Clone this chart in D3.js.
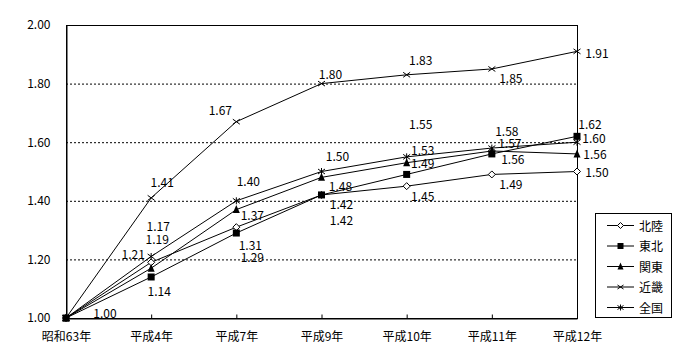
<!DOCTYPE html>
<html><head><meta charset="utf-8">
<script src="https://cdn.jsdelivr.net/npm/d3@7"></script>
<style>body{margin:0;background:#fff}svg{display:block}text{font-family:"Noto Sans CJK JP","Noto Sans",sans-serif;font-size:12px;fill:#000}</style>
</head><body>
<script>
const categories = ["昭和63年","平成4年","平成7年","平成9年","平成10年","平成11年","平成12年"];
const seriesNames = ["北陸","東北","関東","近畿","全国"];
const hokuriku = [1.00,1.19,1.31,1.42,1.45,1.49,1.50];
const tohoku   = [1.00,1.14,1.29,1.42,1.49,1.56,1.62];
const kanto    = [1.00,1.17,1.37,1.48,1.53,1.57,1.56];
const kinki    = [1.00,1.41,1.67,1.80,1.83,1.85,1.91];
const zenkoku  = [1.00,1.21,1.40,1.50,1.55,1.58,1.60];
const yTicks = [1.00,1.20,1.40,1.60,1.80,2.00];

// label offsets (layout only), [dx,dy] of label centre from point; null = no label
const labelOffsets = [
  [null,[6,-24],[14,17],[20,25],[16,9],[19,9],[20,0]],
  [null,[8,14],[16,23],[20,9],[16,-12],[21,5],[13,-13]],
  [null,[7,-43],[16,5],[19,8],[16,-13],[18,-8],[18,0]],
  [[39,-6],[11,-16],[-16,-12],[9,-10],[14,-15],[19,9],[20,1]],
  [null,[-18,-3],[12,-20],[16,-16],[14,-33],[15,-18],[17,-5]]
];

const allSeries = [hokuriku, tohoku, kanto, kinki, zenkoku];
const markers = ["diamond","square","triangle","cross","star"];

const W=700,H=360, L=66, R=577, T=25, B=318;
const svg = d3.select("body").append("svg").attr("width",W).attr("height",H);
const x = d3.scalePoint().domain(categories).range([L,R]).padding(0);
const y = d3.scaleLinear().domain([1,2]).range([B,T]);

// gridlines
svg.append("g").selectAll("line").data(yTicks.filter(v=>v>1&&v<2)).join("line")
  .attr("x1",L).attr("x2",R).attr("y1",d=>y(d)+0.5).attr("y2",d=>y(d)+0.5)
  .attr("stroke","#000").attr("stroke-dasharray","2,2").attr("stroke-width",1);

// frame
svg.append("rect").attr("x",L+0.5).attr("y",T+0.5).attr("width",R-L).attr("height",B-T)
  .attr("fill","none").attr("stroke","#000");

// axes
const xa = svg.append("g").attr("transform",`translate(0,${B+0.5})`)
  .call(d3.axisBottom(x).tickSizeInner(-4).tickSizeOuter(0).tickPadding(14));
xa.select(".domain").attr("stroke","#000");
xa.selectAll("text").style("font-size","12px").attr("fill","#000");
const ya = svg.append("g").attr("transform",`translate(${L+0.5},0)`)
  .call(d3.axisLeft(y).tickValues(yTicks).tickFormat(d3.format(".2f")).tickSize(0).tickPadding(16));
ya.select(".domain").attr("stroke","#000");
ya.selectAll("text").style("font-size","12px").attr("fill","#000");

function drawMarker(g, type, cx, cy, s){
  const h=s/2;
  if(type==="diamond") g.append("path").attr("d",`M${cx},${cy-h}L${cx+h},${cy}L${cx},${cy+h}L${cx-h},${cy}Z`).attr("fill","#fff").attr("stroke","#000");
  else if(type==="square") g.append("rect").attr("x",cx-h).attr("y",cy-h).attr("width",s).attr("height",s).attr("fill","#000");
  else if(type==="triangle") g.append("path").attr("d",`M${cx},${cy-h-1}L${cx+h},${cy+h}L${cx-h},${cy+h}Z`).attr("fill","#000");
  else if(type==="cross") g.append("path").attr("d",`M${cx-h},${cy-h+1}L${cx+h},${cy+h-1}M${cx-h},${cy+h-1}L${cx+h},${cy-h+1}`).attr("stroke","#000").attr("fill","none");
  else if(type==="star") g.append("path").attr("d",`M${cx-h},${cy-h+1}L${cx+h},${cy+h-1}M${cx-h},${cy+h-1}L${cx+h},${cy-h+1}M${cx},${cy-h}L${cx},${cy+h}`).attr("stroke","#000").attr("fill","none");
}

const line = d3.line().x((d,i)=>x(categories[i])).y(d=>y(d));
allSeries.forEach((vals,si)=>{
  const g = svg.append("g");
  g.append("path").datum(vals).attr("d",line).attr("fill","none").attr("stroke","#000").attr("stroke-width",1);
  vals.forEach((v,i)=>drawMarker(g, markers[si], x(categories[i]), y(v), 7));
});
// labels
allSeries.forEach((vals,si)=>{
  vals.forEach((v,i)=>{
    const o = labelOffsets[si][i]; if(!o) return;
    svg.append("text").attr("x",x(categories[i])+o[0]).attr("y",y(v)+o[1])
      .attr("text-anchor","middle").attr("dominant-baseline","central").text(d3.format(".2f")(v));
  });
});

// legend
const lg = svg.append("g");
lg.append("rect").attr("x",595.5).attr("y",213.5).attr("width",76).attr("height",104).attr("fill","#fff").attr("stroke","#000");
seriesNames.forEach((n,i)=>{
  const cy = 225 + i*20.5;
  lg.append("line").attr("x1",607).attr("x2",634).attr("y1",cy+0.5).attr("y2",cy+0.5).attr("stroke","#000");
  drawMarker(lg, markers[i], 620.5, cy+0.5, 6);
  lg.append("text").attr("x",639).attr("y",cy).attr("dominant-baseline","central").text(n);
});
</script>
</body></html>
